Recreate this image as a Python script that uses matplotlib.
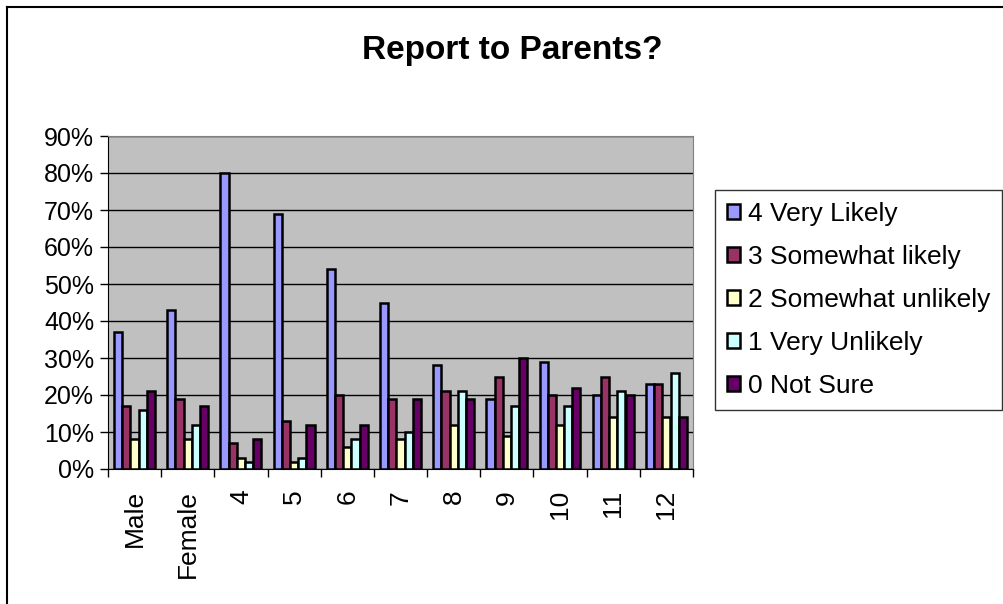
import numpy as np
import matplotlib.pyplot as plt
from matplotlib.lines import Line2D
from matplotlib.ticker import FixedLocator, PercentFormatter

plt.rcParams['font.family'] = ['Liberation Sans', 'DejaVu Sans']

# categories along the x axis
categories = ['Male', 'Female', '4', '5', '6', '7', '8', '9', '10', '11', '12']

# percentages, one list per answer
very_likely = [37, 43, 80, 69, 54, 45, 28, 19, 29, 20, 23]
somewhat_likely = [17, 19, 7, 13, 20, 19, 21, 25, 20, 25, 23]
somewhat_unlikely = [8, 8, 3, 2, 6, 8, 12, 9, 12, 14, 14]
very_unlikely = [16, 12, 2, 3, 8, 10, 21, 17, 17, 21, 26]
not_sure = [21, 17, 8, 12, 12, 19, 19, 30, 22, 20, 14]

series_names = ['4 Very Likely', '3 Somewhat likely', '2 Somewhat unlikely',
                '1 Very Unlikely', '0 Not Sure']
series = [very_likely, somewhat_likely, somewhat_unlikely, very_unlikely, not_sure]
colors = ['#9999FF', '#993366', '#FFFFCC', '#CCFFFF', '#660066']

fig = plt.figure(figsize=(10.04, 6.04), dpi=100)
ax = fig.add_axes([108/1004, 1 - 469/604, (693 - 108)/1004, (469 - 136)/604])

x = np.arange(len(categories))
w = 1 / 6.5   # excel gap width 150%
for i, (vals, name, c) in enumerate(zip(series, series_names, colors)):
    ax.bar(x + (i - 2) * w, vals, width=w, color=c, edgecolor='black',
           linewidth=1.8, label=name, zorder=3)

ax.set_facecolor('#C0C0C0')
ax.set_xlim(-0.5, len(categories) - 0.5)
ax.set_ylim(0, 90)
ax.yaxis.set_major_locator(FixedLocator(range(0, 91, 10)))
ax.yaxis.set_major_formatter(PercentFormatter(decimals=0))
ax.grid(axis='y', color='black', linewidth=1, zorder=1)

# category labels in the middle, tick marks on the boundaries
ax.set_xticks(x)
ax.set_xticklabels(categories, rotation=90, va='top')
ax.tick_params(axis='x', which='major', length=0, pad=15, labelsize=19)
ax.set_xticks(np.arange(-0.5, len(categories)), minor=True)
ax.tick_params(axis='x', which='minor', length=6, width=1, direction='out')
ax.tick_params(axis='y', length=6, width=1, direction='out', pad=4, labelsize=18)

for s in ['top', 'right']:
    ax.spines[s].set_color('#808080')
for s in ['left', 'bottom']:
    ax.spines[s].set_color('black')

fig.text(512/1004, 1 - 50/604, 'Report to Parents?', ha='center', va='center',
         fontsize=24, fontweight='bold')

leg = fig.legend(loc='upper left', bbox_to_anchor=(715/1004, 1 - 190/604),
                 fontsize=19, frameon=True, fancybox=False, edgecolor='black',
                 handlelength=0.5, handleheight=0.5, handletextpad=0.3,
                 labelspacing=0.72, borderpad=0.45, borderaxespad=0)
leg.get_frame().set_linewidth(1)

# outer chart frame (left and top edges visible)
fig.add_artist(Line2D([7/1004, 7/1004], [0, 1 - 7/604], color='black', linewidth=1.5))
fig.add_artist(Line2D([7/1004, 1], [1 - 7/604, 1 - 7/604], color='black', linewidth=1.5))

fig.savefig('out.png', dpi=100)
